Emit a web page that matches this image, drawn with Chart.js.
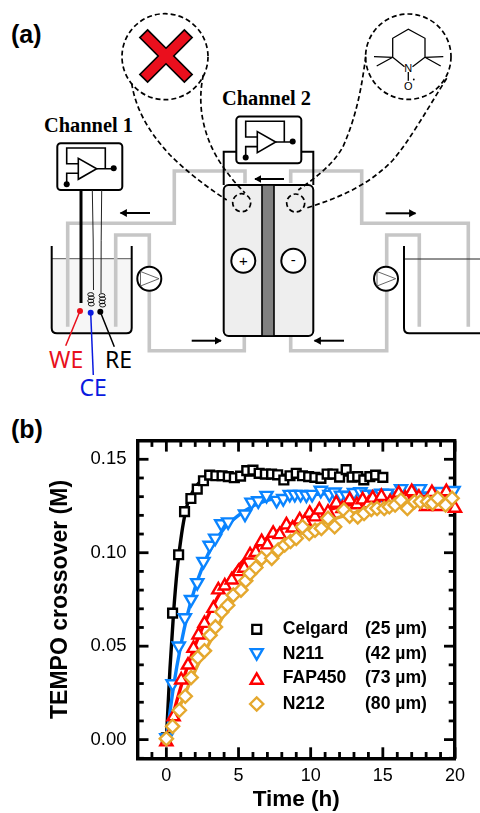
<!DOCTYPE html>
<html>
<head>
<meta charset="utf-8">
<script src="https://cdn.jsdelivr.net/npm/chart.js@4/dist/chart.umd.min.js"></script>
<style>
html,body{margin:0;padding:0;background:#fff;width:480px;height:813px;overflow:hidden}
#diagram{position:absolute;left:0;top:0}
#chart{position:absolute;left:0;top:400px}
</style>
</head>
<body>
<svg id="diagram" width="480" height="813" viewBox="0 0 480 813" xmlns="http://www.w3.org/2000/svg">
  <defs>
    <g id="stat">
      <rect x="57.3" y="143.3" width="65" height="46.7" rx="3.5" fill="#fff" stroke="#000" stroke-width="2"/>
      <path d="M78.3 158.3V179.3L96.7 168.7Z" fill="#fff" stroke="#000" stroke-width="1.6"/>
      <path d="M96.7 168.7H113.7M105.3 168.7V148H66.7V163.7H78.3M78.3 173.3H66.7V184.3" fill="none" stroke="#000" stroke-width="1.6"/>
      <circle cx="113.7" cy="168.3" r="3" fill="#000"/>
      <circle cx="66.7" cy="184.3" r="3" fill="#000"/>
    </g>
    <marker id="ah" markerWidth="5" markerHeight="5" refX="3.2" refY="2" orient="auto"><path d="M0 0L3.6 2L0 4Z" fill="#000"/></marker>
    <g id="coil" fill="none" stroke="#000" stroke-width="0.9">
      <ellipse cx="0" cy="-5" rx="3" ry="1.9"/><ellipse cx="0.6" cy="-1.8" rx="3" ry="1.9"/><ellipse cx="0" cy="1.4" rx="3" ry="1.9"/><ellipse cx="0.6" cy="4.6" rx="3" ry="1.9"/>
    </g>
  </defs>

  <rect x="51.7" y="258.7" width="80" height="74" rx="4" fill="#f6f6f6"/>
  <path d="M51.7 258.7H131.7" stroke="#444" stroke-width="0.9"/>

  <g fill="none" stroke="#c6c6c6" stroke-width="3.6">
    <path d="M67.7 326.7V223.3H174.3V171H245V183.3"/>
    <path d="M115.7 326.7V235H149.3V350.7H244.3V336"/>
    <path d="M290.7 183V171H361.7V223.3H468.3V326.7"/>
    <path d="M290.7 336V350.7H386.7V235H419.3V326.7"/>
  </g>
  <path d="M404 259H480" stroke="#222" stroke-width="1"/>

  <path d="M51.7 246V328Q51.7 333.3 57 333.3H126.4Q131.7 333.3 131.7 328V246" fill="none" stroke="#000" stroke-width="2"/>
  <path d="M404 246V328Q404 333.3 409.3 333.3H480" fill="none" stroke="#000" stroke-width="2"/>

  <path d="M223.7 185V151.7H313.3V185" fill="none" stroke="#000" stroke-width="2"/>
  <rect x="223.7" y="185" width="89.6" height="151" rx="5" fill="#eee" stroke="#000" stroke-width="2"/>
  <rect x="262" y="185" width="12" height="151" fill="#808080" stroke="#000" stroke-width="1.6"/>
  <circle cx="243.3" cy="260.7" r="12" fill="#fff" stroke="#000" stroke-width="2"/>
  <circle cx="293.3" cy="260.7" r="12" fill="#fff" stroke="#000" stroke-width="2"/>
  <text x="243.3" y="266" font-family="Liberation Sans" font-size="15" text-anchor="middle">+</text>
  <text x="293.3" y="265" font-family="Liberation Sans" font-size="15" text-anchor="middle">-</text>

  <use href="#stat"/>
  <use href="#stat" transform="translate(179 -26.7)"/>

  <path d="M81 190V303" stroke="#000" stroke-width="3" fill="none"/>
  <path d="M92.3 190Q93.5 240 93.5 290M101.7 190Q101 240 101 293" stroke="#222" stroke-width="1" fill="none"/>
  <use href="#coil" transform="translate(90.7 299.5)"/>
  <use href="#coil" transform="translate(102 300.5)"/>

  <g fill="#fff" stroke="#000" stroke-width="2">
    <circle cx="149.3" cy="278.7" r="12"/><circle cx="386" cy="278.7" r="12"/>
  </g>
  <path d="M140.5 271.5V286L159 278.7Z M377 271.5V286L395.7 278.7Z" fill="none" stroke="#555" stroke-width="0.9"/>

  <g stroke="#000" stroke-width="2" fill="none" marker-end="url(#ah)">
    <path d="M150 213H120.5"/>
    <path d="M284 179H255"/>
    <path d="M385.7 213.3H415.5"/>
    <path d="M191.7 340.7H221"/>
    <path d="M344 340.7H314.5"/>
  </g>

  <g fill="none" stroke="#000" stroke-width="1.7" stroke-dasharray="5 3">
    <circle cx="165" cy="56.7" r="43"/>
    <circle cx="408.3" cy="56.7" r="42.7"/>
    <circle cx="241.7" cy="202.7" r="9"/>
    <circle cx="295.7" cy="203" r="9"/>
    <path d="M131.7 83.3C135 105 145 128 170 155C185 170 205 186 226.7 200"/>
    <path d="M203.3 75C198 100 201 125 213 150C222 168 235 183 245 193"/>
    <path d="M365.7 56.7C362 85 357 115 343 146.7C333 165 315 178 298.3 190"/>
    <path d="M446.7 78.3C428 108 410 140 393 160C368 186 338 198 306.7 208"/>
  </g>

  <path transform="translate(166 56) rotate(45)" d="M-31.5 -5.5H-5.5V-31.5H5.5V-5.5H31.5V5.5H5.5V31.5H-5.5V5.5H-31.5Z" fill="#ea0f1d" stroke="#000" stroke-width="1.6"/>

  <g fill="none" stroke="#000" stroke-width="1.3">
    <path d="M404.5 66.7L392.7 57.3V38.3L408.3 29.3L425 38.3V57.3L412.5 66.7"/>
    <path d="M392.7 57.3L374 56.7M392.7 57.3L376.7 66M425 57.3L443.3 56.7M425 57.3L440.7 66"/>
    <path d="M408.3 72V80.7"/>
  </g>
  <text x="408.3" y="71.5" font-family="Liberation Sans" font-size="11" text-anchor="middle">N</text>
  <text x="408.3" y="89.5" font-family="Liberation Sans" font-size="11" text-anchor="middle">O</text>
  <circle cx="413.8" cy="79.5" r="0.9" fill="#000"/>

  <circle cx="80" cy="311" r="3" fill="#e8101c"/>
  <circle cx="90.7" cy="312.7" r="3" fill="#0a1adf"/>
  <circle cx="100.3" cy="311.7" r="3" fill="#000"/>
  <path d="M80 311L65.7 345.7" stroke="#e8101c" stroke-width="1.5"/>
  <path d="M90.7 312.7L93.3 375" stroke="#0a1adf" stroke-width="1.5"/>
  <path d="M100.3 311.7L114.3 346.7" stroke="#000" stroke-width="1.5"/>

  <text x="49" y="367.7" font-family="Noto Sans" font-size="23" fill="#e8101c">WE</text>
  <text x="105" y="367.7" font-family="Noto Sans" font-size="23" fill="#000">RE</text>
  <text x="79.5" y="396" font-family="Noto Sans" font-size="23" fill="#0a1adf">CE</text>

  <text x="44" y="132" font-family="Liberation Serif" font-weight="bold" font-size="20.4">Channel 1</text>
  <text x="222" y="104.7" font-family="Liberation Serif" font-weight="bold" font-size="20.4">Channel 2</text>

  <text x="11" y="43" font-family="Liberation Sans" font-weight="bold" font-size="25">(a)</text>
  <text x="11" y="438" font-family="Liberation Sans" font-weight="bold" font-size="25">(b)</text>
</svg>
<canvas id="chart" width="480" height="413"></canvas>
<script>
const legendNames = ['Celgard', 'N211', 'FAP450', 'N212'];
const legendThickness = ['(25 \u00b5m)', '(42 \u00b5m)', '(73 \u00b5m)', '(80 \u00b5m)'];
const xTitle = 'Time (h)';
const yTitle = 'TEMPO crossover (M)';

const celgardTime = [0,.43,.85,1.26,1.7,2.14,2.57,3,3.43,3.86,4.29,4.71,5.14,5.57,6,6.43,6.86,7.29,7.71,8.14,8.57,9,9.43,9.86,10.29,10.71,11.14,11.54,12,12.46,12.87,13.26,13.68,14.1,14.5,15];
const celgardValue = [.001,.0677,.0989,.122,.129,.134,.1385,.1415,.1412,.1412,.1407,.1401,.141,.1439,.1442,.1425,.1421,.1421,.1417,.1389,.1412,.1425,.1412,.1407,.1403,.1398,.1421,.1421,.1405,.1445,.1405,.1407,.139,.1407,.1415,.1403];
const n211Time = [0,.43,.86,1.28,1.71,2.14,2.57,3,3.38,3.8,4.28,5.45,5.9,6.37,6.94,7.64,8.1,8.55,8.9,9.3,9.7,10.1,10.7,11.3,11.66,12.1,12.5,13,13.45,13.9,14.4,14.9,15.3,16.26,17.57,19,19.9];
const n211Value = [.001,.0299,.0501,.0652,.075,.084,.0954,.104,.1078,.1155,.1165,.1207,.1271,.1278,.1307,.128,.129,.1312,.1312,.1312,.1309,.1312,.1334,.1312,.1325,.1308,.1306,.1322,.1326,.1313,.1308,.1318,.1318,.1343,.1343,.1328,.1333];
const fapTime = [0,.5,1.03,1.5,1.88,2.23,2.64,3.26,3.6,4.05,4.53,5,5.4,5.8,6.2,6.6,7,7.4,7.85,8.32,8.75,9.24,9.6,9.93,10.3,10.6,11.2,11.77,12.2,12.7,13.2,13.6,14,14.3,14.9,15.5,16.1,16.55,17,17.5,18,18.4,18.9,19.4,20];
const fapValue = [-.0012,.0122,.0319,.0399,.0488,.056,.0622,.0702,.0801,.0822,.0854,.0899,.0917,.0988,.1002,.1059,.1042,.1104,.1097,.1149,.1132,.1176,.1167,.1211,.1192,.1229,.1217,.1265,.1237,.1283,.1257,.1283,.1262,.1292,.1301,.1272,.1318,.1292,.1327,.1297,.1247,.1322,.1247,.1327,.1238];
const n212Time = [0,.43,.9,1.31,1.72,2.18,2.64,3.03,3.4,3.84,4.25,4.64,5.17,5.5,5.8,6.2,6.6,7.3,7.75,8.2,8.6,9,9.43,9.9,10.3,10.74,11.2,11.66,12.3,12.7,13.26,13.7,14.2,14.6,15.1,15.45,15.85,16.25,16.7,17.2,17.6,18.1,18.45,18.8,19.35,19.8];
const n212Value = [.0005,.0071,.0157,.0232,.0332,.0439,.0475,.0559,.0603,.0683,.0719,.0773,.08,.085,.0889,.0921,.097,.097,.1014,.1041,.106,.1077,.1139,.1103,.112,.113,.1184,.1139,.1228,.1196,.1192,.121,.1232,.1237,.1237,.1246,.1255,.1282,.1237,.1273,.1273,.1273,.1265,.1291,.1255,.1291];

const celgardFitTime = [0,.25,.5,.75,1,1.25,1.5,2,2.5,3,4,5,7,10,15];
const celgardFitValue = [0,.038,.068,.091,.107,.119,.127,.135,.139,.141,.1415,.1415,.1415,.1415,.1415];
const n211FitTime = [0,.5,1,1.5,2,3,4,5,6,7,8,10,12,15,20];
const n211FitValue = [0,.0285,.0505,.068,.0815,.101,.113,.12,.125,.128,.1295,.131,.132,.132,.132];
const fapFitTime = [0,1,2,3,4,5,6,7,8,10,12,14,16,20];
const fapFitValue = [0,.028,.0505,.068,.082,.093,.101,.108,.113,.12,.1245,.127,.129,.131];
const n212FitTime = [0,1,2,3,4,5,6,7,8,10,12,14,16,20];
const n212FitValue = [0,.019,.037,.052,.067,.079,.089,.097,.104,.113,.119,.123,.1255,.128];

const xTicks = {min:-2, max:20, minor:1, major:5};
const yTicks = {min:-0.01, max:0.16, minor:0.01, major:0.05};

const COLORS = ['#000000', '#0a84ff', '#ff0000', '#e5a82e'];
const STYLES = [
  {pointStyle:'rect', radius:6.2, rotation:0},
  {pointStyle:'triangle', radius:7, rotation:180},
  {pointStyle:'triangle', radius:7, rotation:0},
  {pointStyle:'rectRot', radius:6.6, rotation:0}
];
const toXY = (xs, ys) => xs.map((x, i) => ({x, y: ys[i]}));

function lineSet(xs, ys, i) {
  return {label: legendNames[i] + ' fit', data: toXY(xs, ys), showLine: true, pointRadius: 0,
    borderColor: COLORS[i], borderWidth: 3.4, cubicInterpolationMode: 'monotone', order: 4 + (3 - i) , clip: false};
}
function markSet(xs, ys, i) {
  return {label: legendNames[i], data: toXY(xs, ys), showLine: false,
    pointStyle: STYLES[i].pointStyle, pointRadius: STYLES[i].radius, pointRotation: STYLES[i].rotation,
    pointBorderColor: COLORS[i], pointBackgroundColor: '#fff', pointBorderWidth: 2.4,
    borderColor: COLORS[i], backgroundColor: '#fff', order: 3 - i, clip: false};
}

const isMajor = (v, o) => Math.abs(v / o.major - Math.round(v / o.major)) < 1e-6;

const inwardTicks = {
  id: 'inwardTicks',
  beforeDatasetsDraw(chart) {
    const {ctx, chartArea: a, scales} = chart;
    ctx.save();
    ctx.strokeStyle = '#000';
    ctx.lineWidth = 2.8;
    const draw = (sc, o, fn) => sc.ticks.forEach(t => {
      const p = sc.getPixelForValue(t.value);
      const len = isMajor(t.value, o) ? 11 : 6.3;
      ctx.beginPath(); fn(p, len); ctx.stroke();
    });
    draw(scales.x, xTicks, (p, l) => { ctx.moveTo(p, a.bottom); ctx.lineTo(p, a.bottom - l); });
    draw(scales.x, xTicks, (p, l) => { ctx.moveTo(p, a.top); ctx.lineTo(p, a.top + l); });
    draw(scales.y, yTicks, (p, l) => { ctx.moveTo(a.left, p); ctx.lineTo(a.left + l, p); });
    draw(scales.y, yTicks, (p, l) => { ctx.moveTo(a.right, p); ctx.lineTo(a.right - l, p); });
    ctx.restore();
  }
};

const legendPanel = {
  id: 'legendPanel',
  afterDatasetsDraw(chart) {
    const {ctx} = chart;
    const rows = [229.3, 254.3, 278.6, 304];
    ctx.save();
    rows.forEach((y, i) => {
      ctx.fillStyle = '#fff';
      ctx.strokeStyle = COLORS[i];
      ctx.lineWidth = 2.4;
      Chart.helpers.drawPoint(ctx, {pointStyle: STYLES[i].pointStyle, rotation: STYLES[i].rotation,
        radius: STYLES[i].radius, borderWidth: 2.4}, 256.7, y + (i === 1 ? -1.7 : i === 2 ? 1.7 : 0));
      ctx.fillStyle = '#000';
      ctx.textBaseline = 'middle';
      ctx.font = 'bold 17.6px "Liberation Sans"';
      ctx.fillText(legendNames[i], 282.7, y);
      ctx.fillText(legendThickness[i], 365, y);
    });
    ctx.restore();
  }
};

new Chart(document.getElementById('chart'), {
  type: 'scatter',
  data: {datasets: [
    lineSet(celgardFitTime, celgardFitValue, 0),
    lineSet(n211FitTime, n211FitValue, 1),
    lineSet(fapFitTime, fapFitValue, 2),
    lineSet(n212FitTime, n212FitValue, 3),
    markSet(celgardTime, celgardValue, 0),
    markSet(n211Time, n211Value, 1),
    markSet(fapTime, fapValue, 2),
    markSet(n212Time, n212Value, 3)
  ]},
  options: {
    responsive: false,
    animation: false,
    devicePixelRatio: 1,
    layout: {padding: {top: 40.6, right: 25, left: 0, bottom: 0}},
    plugins: {legend: {display: false}, tooltip: {enabled: false}},
    scales: {
      x: {
        type: 'linear', position: 'bottom', min: xTicks.min, max: xTicks.max,
        afterFit(s) { s.height = 54.7; },
        border: {display: true, color: '#000', width: 3.4},
        grid: {display: false, drawTicks: false},
        ticks: {stepSize: xTicks.minor, autoSkip: false, maxRotation: 0, padding: 7, color: '#000',
          font: {family: 'Liberation Sans', size: 18},
          callback: v => isMajor(v, xTicks) ? String(v) : ''},
        title: {display: true, text: xTitle, color: '#000', padding: {top: 0, bottom: 0},
          font: {family: 'Liberation Sans', size: 22.5, weight: 'bold'}}
      },
      y: {
        type: 'linear', position: 'left', min: yTicks.min, max: yTicks.max,
        afterFit(s) { s.width = 137.5; },
        border: {display: true, color: '#000', width: 3.4},
        grid: {display: false, drawTicks: false},
        ticks: {stepSize: yTicks.minor, autoSkip: false, padding: 11, color: '#000',
          font: {family: 'Liberation Sans', size: 18.5},
          callback: v => isMajor(v, yTicks) ? v.toFixed(2) : ''},
        title: {display: true, text: yTitle, color: '#000', padding: {top: 47, bottom: 0},
          font: {family: 'Liberation Sans', size: 23, weight: 'bold'}}
      },
      x2: {
        type: 'linear', position: 'top', min: xTicks.min, max: xTicks.max,
        afterFit(s) { s.height = 0; },
        border: {display: true, color: '#000', width: 3.4},
        grid: {display: false, drawTicks: false}, ticks: {display: false}
      },
      y2: {
        type: 'linear', position: 'right', min: yTicks.min, max: yTicks.max,
        afterFit(s) { s.width = 0; },
        border: {display: true, color: '#000', width: 3.4},
        grid: {display: false, drawTicks: false}, ticks: {display: false}
      }
    }
  },
  plugins: [inwardTicks, legendPanel]
});
</script>
</body>
</html>
